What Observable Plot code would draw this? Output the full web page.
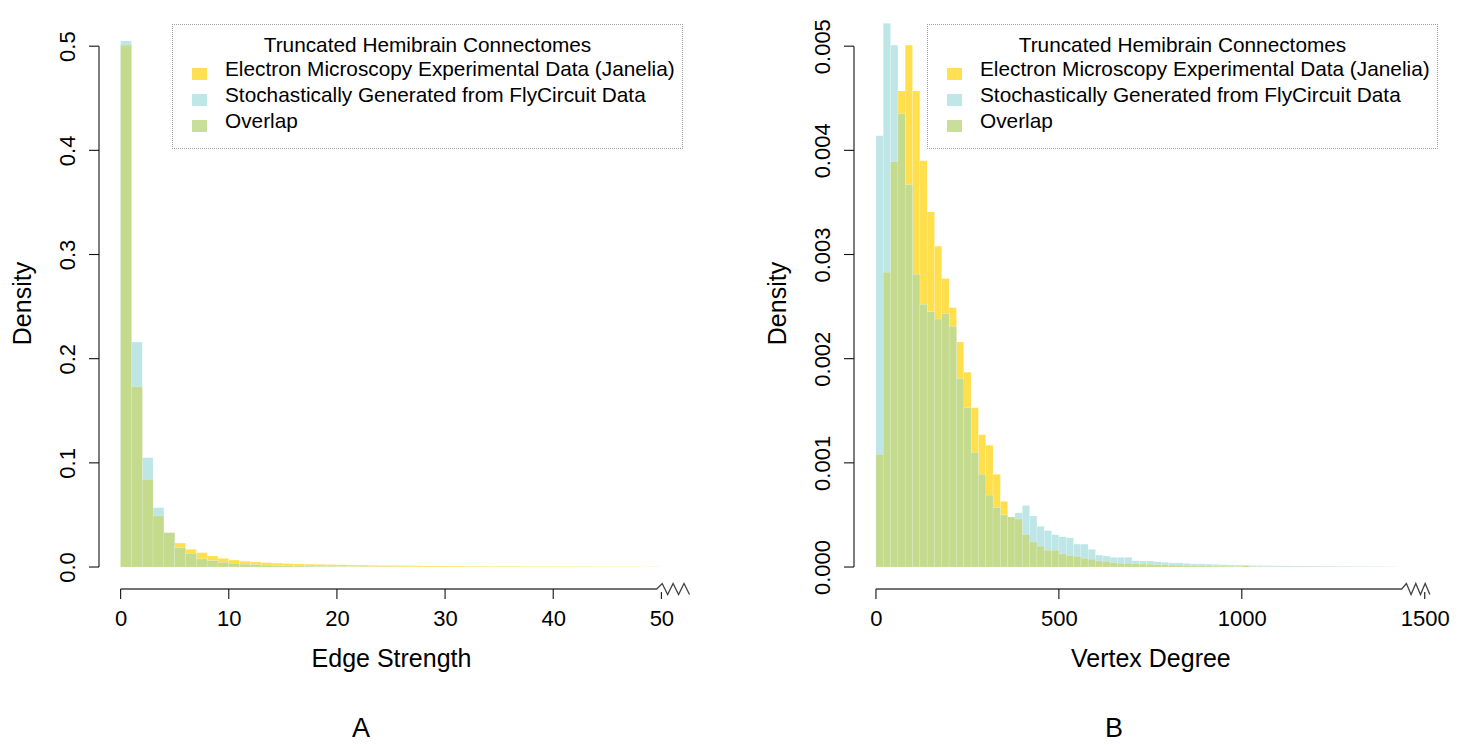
<!DOCTYPE html>
<html>
<head>
<meta charset="utf-8">
<script src="https://cdn.jsdelivr.net/npm/d3@7"></script>
<script src="https://cdn.jsdelivr.net/npm/@observablehq/plot@0.6"></script>
<style>
  body { margin: 0; background: #fff; font-family: "Liberation Sans", Arial, sans-serif; }
  #wrap { position: relative; width: 1460px; height: 745px; overflow: hidden; background: #fff; }
  .panel { position: absolute; top: 0; }
  .legend { position: absolute; box-sizing: border-box; border: 1px dotted #a0a0a0; width: 511px; height: 125px; top: 24px; }
  .legend .t { position: absolute; font-size: 20.8px; line-height: 1; white-space: nowrap; color: #000; }
  .legend .sw { position: absolute; width: 15px; height: 12px; left: 19px; }
  .cap { position: absolute; width: 200px; text-align: center; font-size: 27px; line-height: 30px; top: 713px; }
</style>
</head>
<body>
<div id="wrap"></div>
<script>
// ---------------- data ----------------
const legendTitle = "Truncated Hemibrain Connectomes";
const seriesNames = ["Electron Microscopy Experimental Data (Janelia)", "Stochastically Generated from FlyCircuit Data", "Overlap"];

// Panel A: Edge Strength, bin width 1, bins starting at 0
const edgeBinWidth = 1;
const edgeEM = [0.501, 0.173, 0.084, 0.049, 0.0328, 0.023, 0.017, 0.0138, 0.0106, 0.0083,
  0.0067, 0.0056, 0.0048, 0.0042, 0.0037, 0.0033, 0.0030, 0.0027, 0.0025, 0.0023,
  0.0021, 0.0019, 0.0018, 0.0016, 0.0015, 0.0014, 0.0013, 0.0012, 0.0011, 0.0010,
  0.0009, 0.00085, 0.0008, 0.00075, 0.0007, 0.00065, 0.0006, 0.00055, 0.0005, 0.00048,
  0.00045, 0.00042, 0.0004, 0.00037, 0.00035, 0.00032, 0.0003, 0.00028, 0.00026, 0.00025];
const edgeStoch = [0.505, 0.216, 0.105, 0.057, 0.033, 0.0185, 0.013, 0.0078, 0.006, 0.0045,
  0.0035, 0.0027, 0.0022, 0.0018, 0.0014, 0.0011, 0.0009, 0.0007, 0.0006, 0.0005,
  0.0004, 0.0003, 0.00025, 0.0002, 0.00015, 0.0001, 0.00008, 0.00006, 0.00005, 0.00004,
  0.00003, 0.00002, 0.00002, 0.00001, 0.00001, 0, 0, 0, 0, 0,
  0, 0, 0, 0, 0, 0, 0, 0, 0, 0];
const edgeXTicks = [0, 10, 20, 30, 40, 50];
const edgeYTicks = [0, 0.1, 0.2, 0.3, 0.4, 0.5];

// Panel B: Vertex Degree, bin width 20, bins starting at 0
const degreeBinWidth = 20;
const degreeEM = [0.00108, 0.00283, 0.00389, 0.00457, 0.00501, 0.00457, 0.0039, 0.00341, 0.00308, 0.00277,
  0.00249, 0.00216, 0.00187, 0.00153, 0.00127, 0.00117, 0.00089, 0.00063, 0.00048, 0.00046,
  0.00031, 0.00024, 0.0002, 0.00016, 0.00016, 0.000125, 0.00011, 0.0001, 0.000083, 0.000074,
  0.000058, 0.000052, 0.00004, 0.000035, 0.000035, 0.00003, 0.000028, 0.000025, 0.000022, 0.00002,
  0.000018, 0.000016, 0.000014, 0.000012, 0.000011, 0.00001, 0.000009, 0.000008, 0.000007, 0.000006,
  0.000018, 0.000005, 0.000004, 0.000004, 0.000003, 0.000003, 0.000002, 0.000002, 0.000002, 0.000001,
  0.000001, 0.000001, 0, 0, 0, 0, 0, 0, 0, 0, 0, 0, 0, 0, 0];
const degreeStoch = [0.00414, 0.00522, 0.00501, 0.00435, 0.00367, 0.00281, 0.00252, 0.00245, 0.00238, 0.00243,
  0.00231, 0.00181, 0.00153, 0.0011, 0.00089, 0.00069, 0.00057, 0.0005, 0.00048, 0.00052,
  0.00059, 0.00049, 0.00039, 0.00035, 0.00031, 0.00029, 0.00028, 0.00022, 0.00022, 0.00017,
  0.000115, 0.000106, 0.000093, 0.000093, 0.000093, 0.00006, 0.000058, 0.000058, 0.00005, 0.000045,
  0.00004, 0.00004, 0.000035, 0.00003, 0.00003, 0.000028, 0.000025, 0.000022, 0.00002, 0.000018,
  0.000012, 0.000015, 0.000014, 0.000013, 0.000012, 0.000012, 0.000011, 0.00001, 0.00001, 0.000009,
  0.000009, 0.000008, 0.000008, 0.000007, 0.000007, 0.000006, 0.000006, 0.000005, 0.000005, 0.000004,
  0.000003, 0, 0, 0, 0];
const degreeXTicks = [0, 500, 1000, 1500];
const degreeYTicks = [0, 0.001, 0.002, 0.003, 0.004, 0.005];

// ---------------- style ----------------
const colYellow = "#FFDF4C";
const colBlue = "#BEE6E7";
const colGreen = "#C4DA8D";
const swatchColors = ["#FFE052", "#BFE7E8", "#CADE9C"];
const fontFamily = "'Liberation Sans', Arial, Helvetica, sans-serif";

function axesMark(cfg) {
  return (index, scales, values, dims) => {
    const {x, y} = scales;
    const g = d3.create("svg:g").attr("fill", "none");
    const yb = dims.height - dims.marginBottom;
    const xl = dims.marginLeft;
    // y axis
    g.append("line").attr("x1", xl).attr("x2", xl)
      .attr("y1", y(cfg.yTicks[0])).attr("y2", y(cfg.yTicks[cfg.yTicks.length - 1]))
      .attr("stroke", "#111").attr("stroke-width", 1.1);
    for (const t of cfg.yTicks) {
      g.append("line").attr("x1", xl).attr("x2", xl - 10).attr("y1", y(t)).attr("y2", y(t))
        .attr("stroke", "#111").attr("stroke-width", 1.1);
    }
    // x axis with break
    const x0 = x(cfg.xTicks[0]);
    const xs = x(cfg.breakStart), xe = x(cfg.breakEnd);
    const n = 6, amp = 5.5;
    let d = `M${x0},${yb}H${xs}`;
    for (let i = 1; i <= n; i++) {
      d += `L${xs + (xe - xs) * i / n},${yb + (i % 2 ? -amp : amp)}`;
    }
    g.append("path").attr("d", d).attr("stroke", "#444").attr("stroke-width", 1.3);
    for (const t of cfg.xTicks) {
      const px = x(t);
      const top = px > xs ? yb + 3 : yb;
      g.append("line").attr("x1", px).attr("x2", px).attr("y1", top).attr("y2", yb + 10)
        .attr("stroke", "#111").attr("stroke-width", 1.1);
    }
    return g.node();
  };
}

function makePanel(cfg) {
  const rows = cfg.em.map((v, i) => ({
    x1: i * cfg.binWidth, x2: (i + 1) * cfg.binWidth,
    em: v, st: cfg.st[i], ov: Math.min(v, cfg.st[i])
  }));
  const barOpts = {x1: "x1", x2: "x2", y1: () => 0, stroke: "white", strokeOpacity: 0.35, strokeWidth: 0.5};
  const txt = {textAnchor: "middle", lineAnchor: "middle", fill: "#000"};
  return Plot.plot({
    width: 730, height: 700,
    marginLeft: cfg.marginLeft, marginRight: cfg.marginRight, marginTop: 17, marginBottom: 111,
    x: {domain: cfg.xDomain, axis: null},
    y: {domain: cfg.yDomain, axis: null},
    style: {fontFamily, background: "white", overflow: "visible", color: "#000"},
    marks: [
      Plot.rect(rows, {...barOpts, y2: "em", fill: colYellow}),
      Plot.rect(rows, {...barOpts, y2: "st", fill: colBlue}),
      Plot.rect(rows, {...barOpts, y2: "ov", fill: colGreen}),
      axesMark(cfg),
      Plot.text(cfg.xTicks, {...txt, x: d => d, frameAnchor: "bottom", dy: 29.7, text: d => String(d), fontSize: 22}),
      Plot.text(cfg.yTicks, {...txt, y: d => d, frameAnchor: "left", dx: -32, rotate: -90, text: d => cfg.yFormat(d), fontSize: 22}),
      Plot.text([cfg.xLabel], {...txt, frameAnchor: "bottom", dy: 69, text: d => d, fontSize: 25}),
      Plot.text(["Density"], {...txt, frameAnchor: "left", dx: -77, rotate: -90, text: d => d, fontSize: 25})
    ]
  });
}

function makeLegend(left) {
  const box = document.createElement("div");
  box.className = "legend";
  box.style.left = left + "px";
  const title = document.createElement("div");
  title.className = "t";
  title.textContent = legendTitle;
  title.style.left = "0"; title.style.width = "509px"; title.style.textAlign = "center";
  title.style.top = "10px";
  box.appendChild(title);
  seriesNames.forEach((name, i) => {
    const base = 52 + i * 26;
    const sw = document.createElement("div");
    sw.className = "sw";
    sw.style.background = swatchColors[i];
    sw.style.top = (base - 9) + "px";
    box.appendChild(sw);
    const t = document.createElement("div");
    t.className = "t";
    t.textContent = name;
    t.style.left = "52px";
    t.style.top = (base - 17.6) + "px";
    box.appendChild(t);
  });
  return box;
}

const wrap = document.getElementById("wrap");

const panelA = makePanel({
  em: edgeEM, st: edgeStoch, binWidth: edgeBinWidth,
  xTicks: edgeXTicks, yTicks: edgeYTicks, yFormat: d3.format(".1f"),
  xDomain: [-2, 52], yDomain: [-0.0211, 0.528],
  marginLeft: 99, marginRight: 47,
  breakStart: 49.57, breakEnd: 52.6,
  xLabel: "Edge Strength"
});
panelA.classList.add("panel");
panelA.style.left = "0px";
wrap.appendChild(panelA);

const panelB = makePanel({
  em: degreeEM, st: degreeStoch, binWidth: degreeBinWidth,
  xTicks: degreeXTicks, yTicks: degreeYTicks, yFormat: d3.format(".3f"),
  xDomain: [-60, 1560], yDomain: [-0.000211, 0.00528],
  marginLeft: 124, marginRight: 13.3,
  breakStart: 1437, breakEnd: 1514,
  xLabel: "Vertex Degree"
});
panelB.classList.add("panel");
panelB.style.left = "730px";
wrap.appendChild(panelB);

wrap.appendChild(makeLegend(172));
wrap.appendChild(makeLegend(927));

[["A", 361], ["B", 1114]].forEach(([txt, cx]) => {
  const c = document.createElement("div");
  c.className = "cap";
  c.textContent = txt;
  c.style.left = (cx - 100) + "px";
  wrap.appendChild(c);
});
</script>
</body>
</html>
